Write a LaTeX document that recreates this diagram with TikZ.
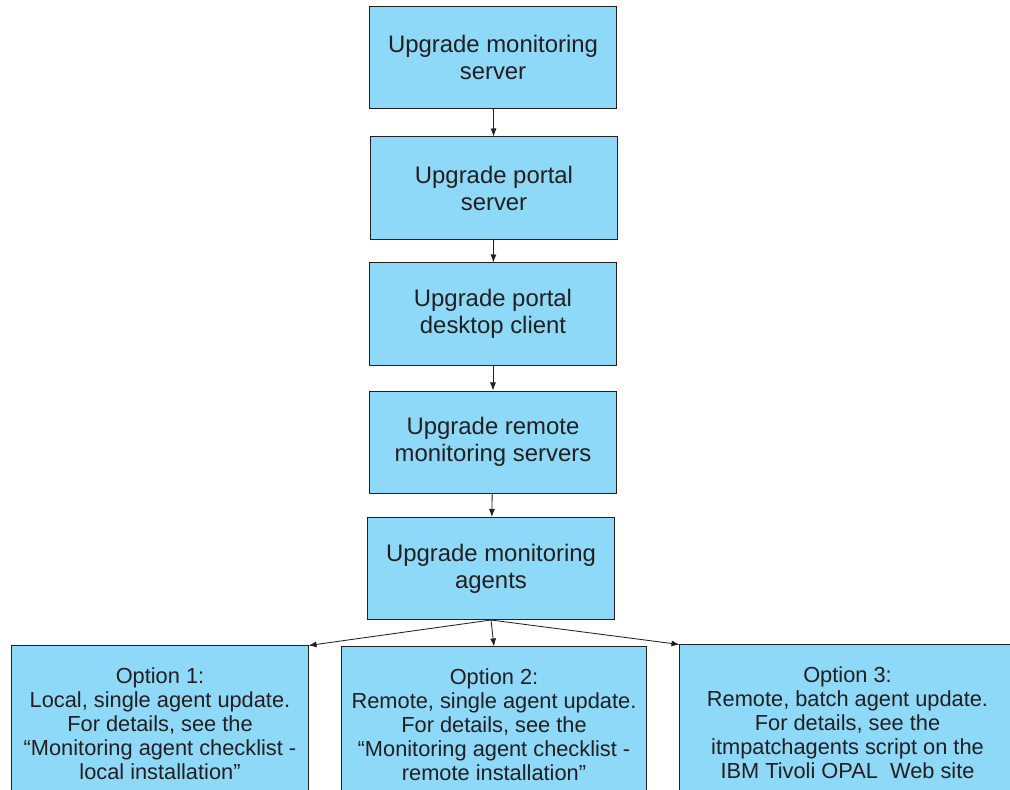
\documentclass[tikz,border=0pt]{standalone}
\usepackage{fontspec}
\usetikzlibrary{arrows.meta}
\setmainfont{Liberation Sans}
\definecolor{boxblue}{HTML}{8ED8F8}
\definecolor{inkgray}{HTML}{231F20}
\begin{document}
\begin{tikzpicture}[
	x=0.025cm,y=-0.025cm,
	step box/.style={draw=inkgray,fill=boxblue,line width=0.7pt,align=center,
		minimum width=6.175cm,minimum height=2.55cm,text=inkgray,
		font=\fontsize{17}{19.2}\selectfont},
	option box/.style={draw=inkgray,fill=boxblue,line width=0.7pt,align=center,
		minimum height=3.9cm,text=inkgray,
		font=\fontsize{15.5}{17.1}\selectfont},
	flow/.style={draw=inkgray,line width=0.6pt,-{Latex[length=2mm,width=1.5mm]}}
]
	\useasboundingbox (0,0) rectangle (1010,789);

	\node[step box] at (493,57.5) (server) {Upgrade monitoring\\server};
	\node[step box] at (494,188) (portal) {Upgrade portal\\server};
	\node[step box] at (493,314) (desktop) {Upgrade portal\\desktop client};
	\node[step box] at (493,442) (remote) {Upgrade remote\\monitoring servers};
	\node[step box] at (491,568.5) (agents) {Upgrade monitoring\\agents};

	\node[option box,minimum width=7.4cm] at (160,724) (opt1) {Option 1:\\Local, single agent update.\\For details, see the\\``Monitoring agent checklist -\\local installation''};
	\node[option box,minimum width=7.6cm] at (494,725) (opt2) {Option 2:\\Remote, single agent update.\\For details, see the\\``Monitoring agent checklist -\\remote installation''};
	\node[option box,minimum width=8.375cm] at (847.5,723) (opt3) {Option 3:\\Remote, batch agent update.\\For details, see the\\itmpatchagents script on the\\IBM Tivoli OPAL\ \ Web site};

	\draw[flow] (server) -- (portal);
	\draw[flow] (portal) -- (desktop);
	\draw[flow] (desktop) -- (remote);
	\draw[flow] (remote) -- (agents);
	\draw[flow] (agents.south) -- (opt1.north east);
	\draw[flow] (agents.south) -- (opt2.north);
	\draw[flow] (agents.south) -- (opt3.north west);

\end{tikzpicture}
\end{document}
